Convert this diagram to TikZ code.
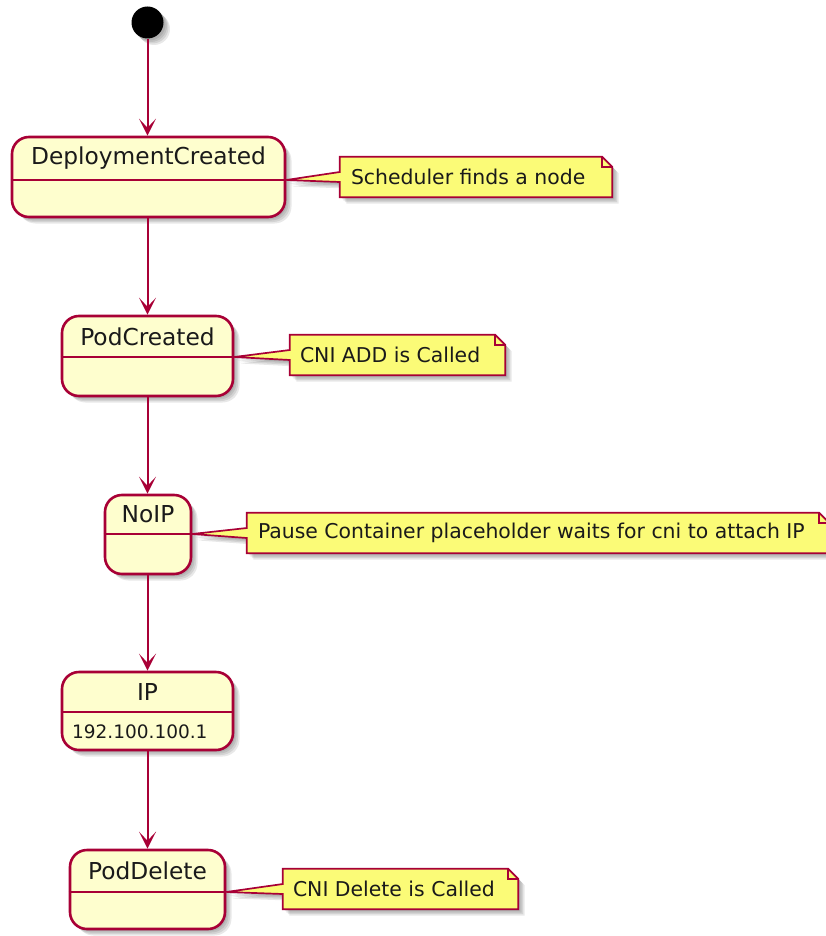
\documentclass[tikz,border=0pt]{standalone}
\usepackage{fontspec}
\setmainfont{DejaVu Sans}
\usetikzlibrary{arrows.meta}

\definecolor{umlborder}{HTML}{A80036}
\definecolor{statefill}{HTML}{FEFECE}
\definecolor{notefill}{HTML}{FBFB77}
\definecolor{umltext}{HTML}{1A1A1A}

\tikzset{
  softshadow/.style={
    preaction={fill=black, opacity=0.09, transform canvas={xshift=2pt, yshift=-2pt}},
    preaction={fill=black, opacity=0.09, transform canvas={xshift=3.5pt, yshift=-3.5pt}},
    preaction={fill=black, opacity=0.09, transform canvas={xshift=5pt, yshift=-5pt}},
    preaction={fill=black, opacity=0.09, transform canvas={xshift=6.5pt, yshift=-6.5pt}}},
  statebox/.style={draw=umlborder, fill=statefill, line width=2.6pt,
    rounded corners=17pt, softshadow, inner sep=0pt, rectangle},
  statename/.style={text=umltext, font=\fontsize{23.3}{28}\selectfont, inner sep=0pt},
  stateattr/.style={text=umltext, font=\fontsize{18.5}{22}\selectfont, inner sep=0pt, anchor=west},
  startdot/.style={circle, fill=black, minimum size=32pt, inner sep=0pt, softshadow},
  divider/.style={draw=umlborder, line width=2.4pt},
  flow/.style={draw=umlborder, line width=2pt,
    -{Stealth[length=17pt, width=17pt, inset=9pt]}},
  noteframe/.style={rectangle, inner sep=0pt},
  noteshape/.style={draw=umlborder, fill=notefill, line width=1.7pt, line join=miter, softshadow},
  notefold/.style={draw=umlborder, line width=1.7pt},
  notetext/.style={text=umltext, font=\fontsize{20.4}{24}\selectfont, inner sep=0pt, anchor=west},
}

% Note outline with folded corner and a pointer whose tip is #2
\newcommand{\drawnoteshape}[2]{%
  \path[noteshape]
    (#1.north west) -- ([xshift=-10pt]#1.north east) -- ([yshift=-10pt]#1.north east)
    -- (#1.south east) -- (#1.south west) -- ([yshift=-5pt]#1.west)
    -- (#2) -- ([yshift=5pt]#1.west) -- cycle;
  \draw[notefold] ([xshift=-10pt]#1.north east) -- ([xshift=-10pt, yshift=-10pt]#1.north east)
    -- ([yshift=-10pt]#1.north east);
}

\begin{document}
\begin{tikzpicture}[x=1pt, y=-1pt]
  \useasboundingbox (0,0) rectangle (826,936);

  % initial state
  \node[startdot] (start) at (147.5,22.5) {};

  % states
  \node[statebox, minimum width=273pt, minimum height=80pt] (dc) at (148.5,177) {};
  \coordinate (dcdiv) at (148.5,180);
  \draw[divider] (dc.west |- dcdiv) -- (dc.east |- dcdiv);
  \node[statename] (dcname) at (148.5,158.5) {DeploymentCreated};

  \node[statebox, minimum width=171pt, minimum height=80pt] (pc) at (147.5,356) {};
  \coordinate (pcdiv) at (147.5,357);
  \draw[divider] (pc.west |- pcdiv) -- (pc.east |- pcdiv);
  \node[statename] (pcname) at (147.5,336.5) {PodCreated};

  \node[statebox, minimum width=86pt, minimum height=79pt] (noip) at (148,534.5) {};
  \coordinate (noipdiv) at (148,534);
  \draw[divider] (noip.west |- noipdiv) -- (noip.east |- noipdiv);
  \node[statename] (noipname) at (148,514.5) {NoIP};

  \node[statebox, minimum width=171pt, minimum height=78pt] (ip) at (147.5,711) {};
  \coordinate (ipdiv) at (147.5,712);
  \draw[divider] (ip.west |- ipdiv) -- (ip.east |- ipdiv);
  \node[statename] (ipname) at (147.5,692) {IP};
  \node[stateattr] (ipaddr) at (72,731.5) {192.100.100.1};

  \node[statebox, minimum width=155pt, minimum height=79pt] (pd) at (147.5,889.5) {};
  \coordinate (pddiv) at (147.5,892);
  \draw[divider] (pd.west |- pddiv) -- (pd.east |- pddiv);
  \node[statename] (pdname) at (147.5,871) {PodDelete};

  % transitions
  \draw[flow] (start) -- (start |- dc.north);
  \draw[flow] (start |- dc.south) -- (start |- pc.north);
  \draw[flow] (start |- pc.south) -- (start |- noip.north);
  \draw[flow] (start |- noip.south) -- (start |- ip.north);
  \draw[flow] (start |- ip.south) -- (start |- pd.north);

  % notes
  \node[noteframe, minimum width=272pt, minimum height=40pt] (n1) at (476,177) {};
  \drawnoteshape{n1}{dc.east |- dcdiv}
  \node[notetext] (n1text) at ([xshift=11pt]n1.west) {Scheduler finds a node};

  \node[noteframe, minimum width=215pt, minimum height=40pt] (n2) at (397.5,355) {};
  \drawnoteshape{n2}{pc.east |- pcdiv}
  \node[notetext] (n2text) at ([xshift=10pt]n2.west) {CNI ADD is Called};

  \node[noteframe, minimum width=582pt, minimum height=40pt] (n3) at (538,533) {};
  \drawnoteshape{n3}{noip.east |- noipdiv}
  \node[notetext] (n3text) at ([xshift=11pt]n3.west) {Pause Container placeholder waits for cni to attach IP};

  \node[noteframe, minimum width=235pt, minimum height=40pt] (n4) at (400.5,889) {};
  \drawnoteshape{n4}{pd.east |- pddiv}
  \node[notetext] (n4text) at ([xshift=10pt]n4.west) {CNI Delete is Called};
\end{tikzpicture}
\end{document}
